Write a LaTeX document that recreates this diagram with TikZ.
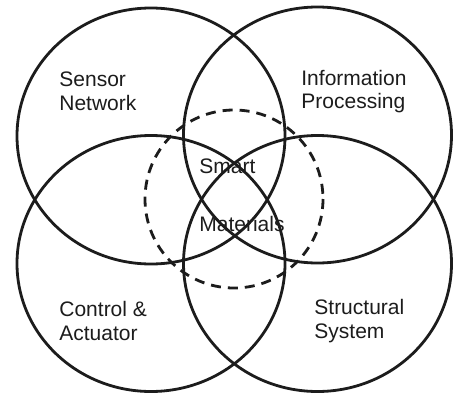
\documentclass[tikz,border=0pt]{standalone}
\usepackage{fontspec}
\setmainfont{Liberation Sans}
\setsansfont{Liberation Sans}
\usetikzlibrary{positioning}
\definecolor{cink}{HTML}{1C1C1C}

\begin{document}
\begin{tikzpicture}[
  x=0.5pt, y=-0.5pt,
  ring/.style={draw=cink, line width=1.4pt},
  core/.style={draw=cink, line width=1.4pt, dash pattern=on 5pt off 3.5pt},
  lbl/.style={
    align=left, anchor=west, inner sep=0pt, text=cink,
    font=\sffamily\fontsize{10.5}{11.8}\selectfont
  },
  font=\sffamily
]
\useasboundingbox (0,0) rectangle (460,396);

% ============================================================
% Four overlapping discipline circles
\draw[ring] (151,136)   ellipse [x radius=134, y radius=128];
\draw[ring] (317.5,135) ellipse [x radius=134, y radius=128];
\draw[ring] (151,263.5) ellipse [x radius=134, y radius=128];
\draw[ring] (317.5,263.5) ellipse [x radius=134, y radius=128];

% Dashed core circle in the middle
\draw[core] (234,199) circle [radius=89];

% ============================================================
% Circle labels
\node[lbl] (sensor)  at (59,91.5)  {Sensor\\Network};
\node[lbl] (info)    at (301,91.5) {Information\\Processing};
\node[lbl] (control) at (59,321)   {Control \&\\Actuator};
\node[lbl] (struct)  at (314,321)  {Structural\\System};

% Core label, split over the centre crossing
\node[lbl] (smart) at (199,166) {Smart};
\node[lbl] (mat)   at (199,224) {Materials};

\end{tikzpicture}
\end{document}
